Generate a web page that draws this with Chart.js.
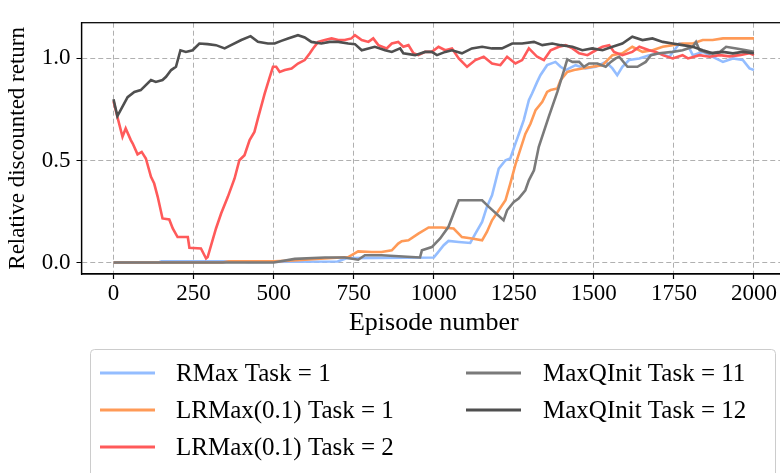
<!DOCTYPE html>
<html>
<head>
<meta charset="utf-8">
<script src="https://cdn.jsdelivr.net/npm/chart.js@4.4.1/dist/chart.umd.min.js"></script>
<style>
  html, body { margin: 0; padding: 0; background: #fff; overflow: hidden; }
  #wrap { width: 788px; height: 473px; }
</style>
</head>
<body>
<div id="wrap"><canvas id="c" width="788" height="473"></canvas></div>
<script>
// ---------------- data ----------------
const seriesLabels = ["RMax Task = 1", "LRMax(0.1) Task = 1", "LRMax(0.1) Task = 2", "MaxQInit Task = 11", "MaxQInit Task = 12"];

const rmaxT1Ep  = [0, 140, 150, 400, 420, 700, 730, 1000, 1010, 1031, 1046, 1078, 1114, 1130, 1151, 1166, 1182, 1203, 1224, 1239, 1255, 1270, 1281, 1297, 1307, 1323, 1333, 1354, 1380, 1396, 1412, 1443, 1474, 1506, 1537, 1558, 1573, 1589, 1610, 1642, 1673, 1704, 1736, 1767, 1793, 1809, 1840, 1871, 1903, 1934, 1965, 1986, 2000];
const rmaxT1Val = [0, 0, 0.006, 0.006, 0.003, 0.005, 0.022, 0.025, 0.044, 0.085, 0.106, 0.101, 0.096, 0.142, 0.199, 0.273, 0.33, 0.46, 0.501, 0.51, 0.583, 0.648, 0.698, 0.795, 0.828, 0.885, 0.918, 0.967, 0.983, 0.959, 0.943, 0.967, 0.951, 0.959, 0.983, 0.951, 0.918, 0.959, 0.992, 1.0, 1.016, 1.025, 1.008, 1.073, 1.065, 1.016, 1.032, 1.008, 0.983, 1.0, 0.992, 0.951, 0.943];

const lrmaxT1Ep  = [0, 340, 360, 500, 560, 733, 764, 806, 837, 869, 889, 900, 921, 952, 984, 1025, 1062, 1088, 1119, 1151, 1166, 1182, 1203, 1224, 1239, 1255, 1286, 1302, 1318, 1339, 1354, 1365, 1386, 1396, 1417, 1438, 1464, 1495, 1527, 1558, 1589, 1620, 1652, 1683, 1715, 1746, 1777, 1809, 1840, 1871, 1903, 1934, 1965, 2000];
const lrmaxT1Val = [0, 0, 0.006, 0.006, 0.01, 0.027, 0.055, 0.052, 0.052, 0.06, 0.093, 0.105, 0.109, 0.142, 0.172, 0.172, 0.167, 0.125, 0.118, 0.109, 0.15, 0.207, 0.256, 0.305, 0.387, 0.48, 0.63, 0.68, 0.747, 0.787, 0.836, 0.845, 0.853, 0.894, 0.934, 0.943, 0.951, 0.959, 0.967, 1.016, 1.025, 1.057, 1.032, 1.04, 1.057, 1.065, 1.073, 1.073, 1.09, 1.09, 1.098, 1.098, 1.098, 1.098];

const lrmaxT2Ep  = [0, 12, 28, 38, 54, 60, 75, 88, 101, 117, 127, 138, 153, 174, 185, 200, 232, 237, 273, 289, 294, 320, 336, 357, 378, 393, 409, 425, 440, 451, 472, 488, 498, 508, 519, 535, 556, 576, 597, 613, 623, 639, 660, 681, 702, 722, 743, 754, 775, 796, 811, 827, 853, 869, 889, 905, 921, 937, 952, 973, 994, 1015, 1036, 1057, 1078, 1104, 1130, 1156, 1182, 1208, 1229, 1255, 1276, 1297, 1323, 1344, 1365, 1391, 1412, 1433, 1454, 1480, 1506, 1527, 1548, 1563, 1589, 1620, 1642, 1673, 1694, 1715, 1746, 1777, 1794, 1830, 1861, 1893, 1924, 1955, 1986, 2000];
const lrmaxT2Val = [0.79, 0.714, 0.616, 0.657, 0.60, 0.583, 0.53, 0.542, 0.51, 0.42, 0.387, 0.322, 0.216, 0.211, 0.167, 0.125, 0.125, 0.072, 0.069, 0.02, 0.027, 0.167, 0.24, 0.322, 0.412, 0.501, 0.526, 0.60, 0.64, 0.706, 0.828, 0.91, 0.959, 0.959, 0.934, 0.943, 0.951, 0.975, 0.992, 1.025, 1.049, 1.081, 1.09, 1.098, 1.09, 1.09, 1.098, 1.114, 1.09, 1.081, 1.098, 1.065, 1.049, 1.073, 1.081, 1.057, 1.065, 1.025, 1.016, 1.032, 1.032, 1.057, 1.04, 1.049, 1.0, 0.959, 0.992, 1.008, 0.975, 0.967, 1.008, 0.975, 0.992, 1.049, 1.008, 0.992, 1.04, 1.057, 1.065, 1.049, 1.025, 1.016, 1.04, 1.057, 1.065, 1.032, 1.016, 1.032, 1.057, 1.04, 1.032, 1.016, 1.0, 1.016, 1.0, 1.016, 1.008, 1.016, 1.01, 1.016, 1.025, 1.016];

const maxq11Ep  = [0, 500, 566, 660, 722, 764, 785, 837, 931, 957, 963, 994, 1020, 1046, 1062, 1078, 1151, 1172, 1218, 1229, 1250, 1265, 1286, 1297, 1313, 1328, 1359, 1386, 1407, 1417, 1433, 1454, 1469, 1485, 1511, 1537, 1553, 1568, 1579, 1605, 1636, 1662, 1678, 1704, 1746, 1777, 1809, 1819, 1830, 1861, 1893, 1913, 1945, 1976, 2000];
const maxq11Val = [0, 0, 0.018, 0.025, 0.025, 0.014, 0.036, 0.036, 0.027, 0.025, 0.06, 0.076, 0.118, 0.175, 0.24, 0.305, 0.305, 0.273, 0.207, 0.256, 0.297, 0.314, 0.354, 0.403, 0.452, 0.567, 0.714, 0.836, 0.943, 0.995, 0.983, 0.983, 0.959, 0.975, 0.975, 0.959, 0.983, 1.0, 1.008, 0.959, 0.959, 0.983, 1.016, 1.025, 1.032, 1.04, 1.057, 1.081, 1.04, 1.025, 1.032, 1.057, 1.049, 1.04, 1.032];

const maxq12Ep  = [0, 12, 44, 65, 85, 117, 132, 153, 164, 180, 195, 209, 226, 247, 268, 294, 320, 347, 367, 399, 428, 451, 482, 503, 524, 545, 576, 597, 618, 649, 675, 702, 733, 754, 775, 796, 816, 848, 869, 895, 905, 942, 973, 994, 1010, 1036, 1057, 1088, 1119, 1151, 1182, 1213, 1245, 1276, 1313, 1339, 1370, 1396, 1433, 1464, 1495, 1527, 1558, 1589, 1620, 1652, 1683, 1715, 1746, 1777, 1809, 1840, 1871, 1903, 1934, 1965, 2000];
const maxq12Val = [0.80, 0.717, 0.81, 0.836, 0.845, 0.894, 0.885, 0.894, 0.91, 0.943, 0.959, 1.04, 1.032, 1.04, 1.073, 1.07, 1.065, 1.049, 1.065, 1.09, 1.109, 1.081, 1.073, 1.073, 1.086, 1.098, 1.114, 1.103, 1.081, 1.073, 1.081, 1.081, 1.073, 1.07, 1.04, 1.049, 1.057, 1.04, 1.032, 1.049, 1.025, 1.016, 1.032, 1.032, 1.016, 1.032, 1.04, 1.025, 1.049, 1.057, 1.049, 1.049, 1.073, 1.073, 1.081, 1.065, 1.073, 1.065, 1.057, 1.04, 1.049, 1.04, 1.057, 1.073, 1.106, 1.09, 1.098, 1.081, 1.073, 1.065, 1.057, 1.04, 1.025, 1.032, 1.025, 1.032, 1.025];

const xTicks = [0, 250, 500, 750, 1000, 1250, 1500, 1750, 2000];
const yTicks = [0, 0.5, 1.0];
const yTickLabels = ["0.0", "0.5", "1.0"];
const xTitle = "Episode number";
const yTitle = "Relative discounted return";

// ---------------- styling ----------------
const colors = ["#94bdff", "#ff9a57", "#ff5a5a", "#7a7a7a", "#4f4f4f"];
const FONT = "'Liberation Serif', 'DejaVu Serif', serif";

function pts(xs, ys) { return xs.map((x, i) => ({ x: x, y: ys[i] })); }
const seriesData = [
  pts(rmaxT1Ep, rmaxT1Val),
  pts(lrmaxT1Ep, lrmaxT1Val),
  pts(lrmaxT2Ep, lrmaxT2Val),
  pts(maxq11Ep, maxq11Val),
  pts(maxq12Ep, maxq12Val)
];

const datasets = seriesLabels.map((lab, i) => ({
  label: lab,
  data: seriesData[i],
  borderColor: colors[i],
  backgroundColor: colors[i],
  borderWidth: 2.6,
  pointRadius: 0,
  tension: 0,
  fill: false,
  order: seriesLabels.length - i
}));

const framePlugin = {
  id: 'frame',
  afterDatasetsDraw(chart) {
    const { ctx, chartArea: a } = chart;
    ctx.save();
    ctx.strokeStyle = '#000';
    ctx.lineWidth = 1.25;
    ctx.setLineDash([]);
    ctx.strokeRect(a.left, a.top, a.right - a.left, a.bottom - a.top);
    ctx.restore();
  }
};

const boxLegend = {
  id: 'boxLegend',
  afterDraw(chart) {
    const ctx = chart.ctx;
    const ds = chart.data.datasets;
    ctx.save();
    ctx.setLineDash([]);
    const bx = 90.5, by = 349.5, bw = 685, bh = 150, r = 4;
    ctx.beginPath();
    ctx.moveTo(bx + r, by);
    ctx.lineTo(bx + bw - r, by);
    ctx.quadraticCurveTo(bx + bw, by, bx + bw, by + r);
    ctx.lineTo(bx + bw, by + bh);
    ctx.lineTo(bx, by + bh);
    ctx.lineTo(bx, by + r);
    ctx.quadraticCurveTo(bx, by, bx + r, by);
    ctx.closePath();
    ctx.fillStyle = 'rgba(255,255,255,0.8)';
    ctx.fill();
    ctx.strokeStyle = '#cccccc';
    ctx.lineWidth = 1;
    ctx.stroke();

    const cols = [
      { lineX: 100, textX: 176, items: [0, 1, 2] },
      { lineX: 466, textX: 543, items: [3, 4] }
    ];
    const rows = [373, 410, 447];
    ctx.font = "25px " + FONT;
    ctx.textBaseline = 'middle';
    ctx.textAlign = 'left';
    cols.forEach(col => {
      col.items.forEach((idx, k) => {
        const y = rows[k];
        ctx.strokeStyle = ds[idx].borderColor;
        ctx.lineWidth = 2.8;
        ctx.beginPath();
        ctx.moveTo(col.lineX, y);
        ctx.lineTo(col.lineX + 55, y);
        ctx.stroke();
        ctx.fillStyle = '#000';
        ctx.fillText(ds[idx].label, col.textX, y + 1);
      });
    });
    ctx.restore();
  }
};

const gridOpts = {
  color: '#b0b0b0',
  lineWidth: 1,
  drawTicks: true,
  tickLength: 5,
  tickColor: '#000',
  tickWidth: 1.2,
  tickBorderDash: [1, 0]
};
const borderOpts = { display: true, color: '#000', width: 1.25, dash: [5, 3] };

new Chart(document.getElementById('c'), {
  type: 'line',
  data: { datasets: datasets },
  plugins: [framePlugin, boxLegend],
  options: {
    responsive: false,
    devicePixelRatio: 1,
    animation: false,
    layout: { padding: { top: 22.7, right: 2, bottom: 134, left: 0 } },
    plugins: { legend: { display: false }, tooltip: { enabled: false } },
    scales: {
      x: {
        type: 'linear',
        min: -100,
        max: 2100,
        afterBuildTicks: s => { s.ticks = xTicks.map(v => ({ value: v })); },
        afterFit: s => { s.height = 65; },
        ticks: {
          color: '#000',
          font: { family: FONT, size: 23 },
          padding: 1,
          maxRotation: 0,
          autoSkip: false,
          callback: v => String(v)
        },
        grid: gridOpts,
        border: borderOpts,
        title: {
          display: true,
          text: xTitle,
          color: '#000',
          font: { family: FONT, size: 26 },
          padding: { top: 0, bottom: 0 }
        }
      },
      y: {
        type: 'linear',
        min: -0.056,
        max: 1.175,
        afterBuildTicks: s => { s.ticks = yTicks.map(v => ({ value: v })); },
        afterFit: s => { s.width = 81.5; },
        ticks: {
          color: '#000',
          font: { family: FONT, size: 23 },
          padding: 6,
          autoSkip: false,
          callback: v => yTickLabels[yTicks.indexOf(v)]
        },
        grid: gridOpts,
        border: borderOpts,
        title: {
          display: true,
          text: yTitle,
          color: '#000',
          font: { family: FONT, size: 23 },
          padding: { top: 4, bottom: 0 }
        }
      }
    }
  }
});
</script>
</body>
</html>
